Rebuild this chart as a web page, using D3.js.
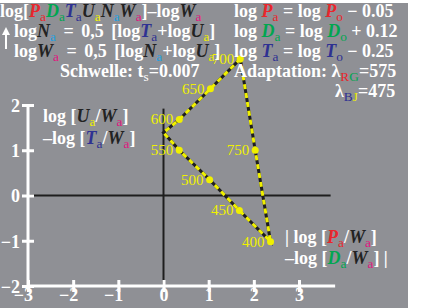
<!DOCTYPE html>
<html>
<head>
<meta charset="utf-8">
<script src="https://cdn.jsdelivr.net/npm/d3@7"></script>
<style>
  body { margin: 0; background: #fff; }
  svg text { font-family: "Liberation Serif", "DejaVu Serif", serif; }
</style>
</head>
<body>
<div id="chart"></div>
<script>
// wavelength points (nm) on the triangle
var waveLabels = ["400", "450", "500", "550", "600", "650", "700", "750"];
var waveX = [2.37, 1.68, 1.02, 0.35, 0.35, 1.04, 1.70, 2.03];
var waveY = [-1.02, -0.33, 0.35, 1.00, 1.68, 2.36, 3.02, 1.00];
// closed outline: 700 -> corner -> 400 -> 750 -> 700
var outlineX = [1.70, 1.04, 0.35, 0.00, 0.35, 1.02, 1.68, 2.37, 2.03, 1.70];
var outlineY = [3.02, 2.36, 1.68, 1.39, 1.00, 0.35, -0.33, -1.02, 1.00, 3.02];
var xTicks = [-3, -2, -1, 0, 1, 2, 3];
var yTicks = [-2, -1, 0, 1, 2];

var C = {
	red: '#e8262c', green: '#00a650', blue: '#2e3192', yel: '#f0f000',
	cyan: '#1ea0e0', mag: '#e0157f', dark: '#222222', white: '#ffffff'
};

var W = 424, H = 308;
var svg = d3.select('#chart').append('svg').attr('width', W).attr('height', H);

svg.append('rect').attr('x', 0).attr('y', 3).attr('width', 408).attr('height', H - 3)
	.attr('fill', '#8f9095');

var x = d3.scaleLinear().domain([-3, 3]).range([28, 299]);
var y = d3.scaleLinear().domain([-2, 2]).range([286, 105]);

// zero lines
svg.append('line').attr('x1', x(-3)).attr('x2', x(3.7)).attr('y1', y(0)).attr('y2', y(0))
	.attr('stroke', '#1e1e1e').attr('stroke-width', 2);
svg.append('line').attr('x1', x(0)).attr('x2', x(0)).attr('y1', y(1.92)).attr('y2', y(-2))
	.attr('stroke', '#1e1e1e').attr('stroke-width', 2);

// axes (white)
var fmt = function(d) { return d < 0 ? '\u2212' + (-d) : d; };
var xAxisG = svg.append('g').attr('transform', 'translate(0,' + (y(-2) - 6) + ')')
	.call(d3.axisBottom(x).tickValues(xTicks).tickSize(12).tickPadding(3).tickFormat(fmt));
var yAxisG = svg.append('g').attr('transform', 'translate(' + (x(-3) + 6) + ',0)')
	.call(d3.axisLeft(y).tickValues(yTicks).tickSize(12).tickPadding(3).tickFormat(fmt));
[xAxisG, yAxisG].forEach(function(g) {
	g.select('.domain').remove();
	g.selectAll('.tick line').attr('stroke', C.white).attr('stroke-width', 3);
	g.selectAll('.tick text').attr('fill', C.white).attr('font-size', 18)
		.attr('font-weight', 'bold').attr('font-family', '"Liberation Serif", serif');
});
xAxisG.selectAll('.tick text').attr('text-anchor', 'end').attr('x', 4.5).attr('y', 8).attr('dy', '0.71em');
yAxisG.selectAll('.tick text').attr('x', -14).attr('dy', '0.36em');

svg.append('line').attr('x1', x(-3)).attr('x2', x(3.8)).attr('y1', y(-2)).attr('y2', y(-2))
	.attr('stroke', C.white).attr('stroke-width', 3);
svg.append('line').attr('x1', x(-3)).attr('x2', x(-3)).attr('y1', y(-2) + 1.5).attr('y2', y(2.02))
	.attr('stroke', C.white).attr('stroke-width', 3);

// outline, dashed yellow on black
var line = d3.line().x(function(d) { return x(d[0]); }).y(function(d) { return y(d[1]); });
var outline = d3.zip(outlineX, outlineY);
svg.append('path').attr('d', line(outline)).attr('fill', 'none')
	.attr('stroke', '#1e1e1e').attr('stroke-width', 3);
svg.append('path').attr('d', line(outline)).attr('fill', 'none')
	.attr('stroke', C.yel).attr('stroke-width', 3).attr('stroke-dasharray', '5,4');

var pts = waveLabels.map(function(l, i) { return { l: l, x: waveX[i], y: waveY[i] }; });
svg.selectAll('circle.pt').data(pts).enter().append('circle').attr('class', 'pt')
	.attr('cx', function(d) { return x(d.x); }).attr('cy', function(d) { return y(d.y); })
	.attr('r', 3.5).attr('fill', C.yel);
svg.selectAll('text.pl').data(pts).enter().append('text').attr('class', 'pl')
	.attr('x', function(d) { return x(d.x) - 6; }).attr('y', function(d) { return y(d.y) + 5; })
	.attr('text-anchor', 'end').attr('font-size', 15).attr('fill', C.yel)
	.text(function(d) { return d.l; });

// rich text helper: segments [text, color, italic, sub]
var rich = function(px, py, segs, size) {
	size = size || 18;
	var t = svg.append('text').attr('x', px).attr('y', py).attr('font-size', size)
		.attr('font-weight', 'bold').attr('fill', C.white);
	var down = false;
	segs.forEach(function(s) {
		var sp = t.append('tspan').text(s[0]).attr('fill', s[1] || C.white);
		if (s[2]) sp.attr('font-style', 'italic');
		if (s[3]) {
			sp.attr('font-size', size * 0.74).attr('font-weight', 'normal');
			if (!down) { sp.attr('dy', 3.5); down = true; }
		} else if (down) { sp.attr('dy', -3.5); down = false; }
	});
	return t;
};
var it = function(ch, col) { return [ch, col, true, false]; };
var sb = function(ch, col) { return [ch, col, false, true]; };
var tx = function(s) { return [s]; };

rich(0, 17, [tx('log['), it('P', C.red), sb('a', C.red), it('D', C.green), sb('a', C.green),
	it('T', C.blue), sb('a', C.blue), it('U', C.dark), sb('a', C.yel), it('N', C.dark), sb('a', C.cyan),
	it('W', C.dark), sb('a', C.mag), tx(']\u2013log'), it('W', C.dark), sb('a', C.mag)]);
rich(14, 37, [tx('log'), it('N', C.dark), sb('a', C.cyan), tx(' = 0,5 [log'), it('T', C.blue), sb('a', C.blue),
	tx('+log'), it('U', C.dark), sb('a', C.yel), tx(']')]).attr('word-spacing', 3);
rich(14, 57, [tx('log'), it('W', C.dark), sb('a', C.mag), tx(' = 0,5 [log'), it('N', C.dark), sb('a', C.cyan),
	tx('+log'), it('U', C.dark), sb('a', C.yel), tx(']')]).attr('word-spacing', 3);
rich(60, 77, [tx('Schwelle: t'), sb('s', C.white), tx('=0.007')]);

rich(234, 17, [tx('log '), it('P', C.red), sb('a', C.red), tx(' = log '), it('P', C.red), sb('o', C.red), tx(' \u2212 0.05')]);
rich(234, 37, [tx('log '), it('D', C.green), sb('a', C.green), tx(' = log '), it('D', C.green), sb('o', C.green), tx(' + 0.12')]);
rich(234, 57, [tx('log '), it('T', C.blue), sb('a', C.blue), tx(' = log '), it('T', C.blue), sb('o', C.blue), tx(' \u2212 0.25')]);
rich(234, 77, [tx('Adaptation: \u03bb'), sb('R', C.red), sb('G', C.green), tx('=575')]);
rich(335, 97, [tx('\u03bb'), sb('B', C.blue), sb('J', C.yel), tx('=475')]);

rich(43, 122, [tx('log ['), it('U', C.dark), sb('a', C.yel), tx('/'), it('W', C.dark), sb('a', C.mag), tx(']')]);
rich(43, 144, [tx('\u2013log ['), it('T', C.blue), sb('a', C.blue), tx('/'), it('W', C.dark), sb('a', C.mag), tx(']')]);
rich(285, 243, [tx('| log ['), it('P', C.red), sb('a', C.red), tx('/'), it('W', C.dark), sb('a', C.mag), tx(']')]);
rich(285, 264, [tx('\u2013log ['), it('D', C.green), sb('a', C.green), tx('/'), it('W', C.dark), sb('a', C.mag), tx('] |')]);

// up arrow at left
svg.append('line').attr('x1', 6).attr('x2', 6).attr('y1', 31).attr('y2', 49)
	.attr('stroke', C.white).attr('stroke-width', 2);
svg.append('path').attr('d', 'M6,27 L2,35 L10,35 Z').attr('fill', C.white);
</script>
</body>
</html>
